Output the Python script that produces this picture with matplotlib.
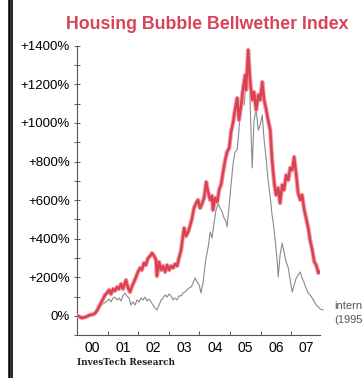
import matplotlib
matplotlib.use("Agg")
import matplotlib.pyplot as plt
from matplotlib.lines import Line2D
from matplotlib.ticker import FixedLocator, NullFormatter, FuncFormatter

# Housing Bubble Bellwether Index (red) - years as decimals, % gain
red_year = [2000.03, 2000.16, 2000.29, 2000.42, 2000.56, 2000.65, 2000.75, 2000.85, 2000.92, 2000.98,
            2001.05, 2001.11, 2001.18, 2001.24, 2001.31, 2001.37, 2001.44, 2001.50, 2001.60, 2001.67,
            2001.73, 2001.80, 2001.86, 2001.93, 2001.99, 2002.06, 2002.12, 2002.19, 2002.25, 2002.32,
            2002.39, 2002.45, 2002.52, 2002.58, 2002.61, 2002.68, 2002.75, 2002.81, 2002.88, 2002.94,
            2003.01, 2003.07, 2003.14, 2003.20, 2003.27, 2003.33, 2003.40, 2003.46, 2003.50, 2003.56,
            2003.63, 2003.69, 2003.76, 2003.82, 2003.89, 2003.95, 2004.02, 2004.08, 2004.15, 2004.22,
            2004.28, 2004.35, 2004.41, 2004.44, 2004.51, 2004.58, 2004.64, 2004.71, 2004.77, 2004.84,
            2004.90, 2004.97, 2005.03, 2005.10, 2005.16, 2005.23, 2005.29, 2005.36, 2005.42, 2005.49,
            2005.52, 2005.59, 2005.65, 2005.72, 2005.78, 2005.85, 2005.92, 2005.98, 2006.05, 2006.11,
            2006.18, 2006.24, 2006.31, 2006.37, 2006.44, 2006.50, 2006.57, 2006.63, 2006.70, 2006.76,
            2006.83, 2006.90, 2006.96, 2007.03, 2007.09, 2007.16, 2007.22, 2007.29, 2007.35, 2007.42,
            2007.48, 2007.55, 2007.61, 2007.68, 2007.75, 2007.81, 2007.88, 2007.91]
red_pct = [0, -10, -5, 5, 10, 26, 57, 88, 109, 119,
           135, 114, 140, 130, 150, 140, 166, 140, 186, 145,
           124, 155, 176, 202, 228, 249, 238, 275, 264, 300,
           311, 326, 311, 290, 207, 280, 238, 259, 228, 264,
           238, 259, 249, 269, 259, 300, 342, 414, 456, 414,
           435, 466, 508, 559, 585, 601, 559, 580, 611, 694,
           642, 601, 622, 549, 611, 591, 653, 684, 746, 808,
           850, 870, 953, 1005, 1067, 1129, 1015, 1093, 1171, 1248,
           1171, 1378, 1222, 1119, 1160, 1067, 1145, 1119, 1212, 1119,
           1067, 1015, 963, 808, 689, 627, 663, 585, 679, 653,
           730, 704, 767, 756, 824, 730, 637, 601, 627, 549,
           508, 456, 394, 342, 280, 264, 223, 228]

# Internet index (gray), overlaid
gray_year = [2000.03, 2000.16, 2000.29, 2000.42, 2000.56, 2000.65, 2000.75, 2000.85, 2000.95, 2001.05,
             2001.11, 2001.18, 2001.24, 2001.31, 2001.37, 2001.44, 2001.50, 2001.57, 2001.63, 2001.70,
             2001.76, 2001.83, 2001.90, 2001.96, 2002.03, 2002.09, 2002.16, 2002.22, 2002.29, 2002.35,
             2002.42, 2002.48, 2002.55, 2002.61, 2002.68, 2002.75, 2002.81, 2002.88, 2002.94, 2003.01,
             2003.07, 2003.14, 2003.20, 2003.27, 2003.33, 2003.40, 2003.46, 2003.53, 2003.59, 2003.66,
             2003.73, 2003.79, 2003.86, 2003.92, 2003.99, 2004.05, 2004.08, 2004.12, 2004.18, 2004.25,
             2004.28, 2004.35, 2004.41, 2004.48, 2004.54, 2004.61, 2004.67, 2004.74, 2004.80, 2004.87,
             2004.90, 2004.97, 2005.03, 2005.10, 2005.16, 2005.23, 2005.29, 2005.36, 2005.39, 2005.46,
             2005.52, 2005.59, 2005.65, 2005.72, 2005.78, 2005.85, 2005.92, 2005.98, 2006.05, 2006.11,
             2006.18, 2006.24, 2006.31, 2006.37, 2006.41, 2006.47, 2006.54, 2006.57, 2006.63, 2006.70,
             2006.76, 2006.83, 2006.90, 2006.96, 2007.03, 2007.09, 2007.16, 2007.22, 2007.29, 2007.35,
             2007.42, 2007.48, 2007.55, 2007.61, 2007.68, 2007.75, 2007.81, 2007.88, 2007.94, 2008.04]
gray_pct = [0, -10, -5, 5, 16, 31, 52, 62, 73, 88,
            73, 93, 98, 83, 93, 78, 104, 119, 104, 93,
            57, 73, 57, 83, 73, 93, 83, 98, 78, 88,
            73, 57, 41, 31, 57, 83, 93, 109, 98, 114,
            104, 83, 93, 83, 104, 104, 119, 124, 135, 145,
            150, 171, 197, 176, 161, 119, 145, 176, 264, 332,
            352, 435, 404, 487, 549, 585, 559, 539, 508, 487,
            461, 575, 679, 793, 850, 860, 963, 1145, 1197, 1093,
            1222, 1388, 1119, 767, 1015, 1067, 963, 989, 1041, 912,
            808, 704, 616, 523, 482, 394, 280, 202, 316, 378,
            332, 280, 249, 186, 124, 161, 197, 212, 228, 197,
            171, 145, 119, 109, 93, 73, 57, 47, 36, 31]

year_labels = ["00", "01", "02", "03", "04", "05", "06", "07"]
y_ticks = [0, 200, 400, 600, 800, 1000, 1200, 1400]

plt.rcParams["font.family"] = ["Liberation Sans", "DejaVu Sans"]

fig = plt.figure(figsize=(3.63, 3.78), dpi=100)
ax = fig.add_axes([0.212, 0.113, 0.670, 0.766])

ax.plot(gray_year, gray_pct, color="#8a8a8a", lw=0.8, clip_on=False, zorder=2)
ax.plot(red_year, red_pct, color="#f3a3ad", lw=3.2, solid_joinstyle="round", zorder=3)
ax.plot(red_year, red_pct, color="#dc4152", lw=1.8, solid_joinstyle="round", zorder=4)

ax.set_xlim(2000.0, 2007.94)
ax.set_ylim(-100, 1400)

for s in ["top", "right"]:
    ax.spines[s].set_visible(False)
for s in ["left", "bottom"]:
    ax.spines[s].set_color("#555555")
    ax.spines[s].set_linewidth(0.8)

ax.yaxis.set_major_locator(FixedLocator(y_ticks))
ax.yaxis.set_minor_locator(FixedLocator([-100, 100, 300, 500, 700, 900, 1100, 1300]))
ax.yaxis.set_major_formatter(FuncFormatter(lambda v, p: "0%" if v == 0 else "+%d%%" % v))
ax.tick_params(axis="y", which="both", direction="inout", length=4, width=0.7,
               color="#555555", labelsize=9.5, pad=3)

ax.xaxis.set_major_locator(FixedLocator([2000 + i for i in range(1, 8)]))
ax.xaxis.set_major_formatter(NullFormatter())
ax.xaxis.set_minor_locator(FixedLocator([2000.5 + i for i in range(len(year_labels))]))
ax.xaxis.set_minor_formatter(FuncFormatter(lambda v, p: year_labels[int(v - 2000)]))
ax.tick_params(axis="x", which="major", direction="in", length=3, width=0.7, color="#555555")
ax.tick_params(axis="x", which="minor", length=0, labelsize=10, pad=4)

fig.text(0.572, 0.934, "Housing Bubble Bellwether Index", color="#d9435a",
         fontsize=12.8, fontweight="bold", ha="center", va="center")
fig.text(0.212, 0.042, "InvesTech Research", family="DejaVu Serif",
         fontsize=6.3, fontweight="bold", ha="left", va="center", color="#222222")
# side label, cut off at the page edge in the source
fig.text(0.921, 0.190, "intern", fontsize=8, color="#555555", ha="left", va="center")
fig.text(0.921, 0.153, "(1995", fontsize=8, color="#555555", ha="left", va="center")

# scanned page border on the left
fig.add_artist(Line2D([0.024, 0.024], [0, 1], color="black", lw=1.8))
fig.add_artist(Line2D([0.032, 0.032], [0, 1], color="black", lw=1.2))

fig.savefig("out.png", dpi=100)
